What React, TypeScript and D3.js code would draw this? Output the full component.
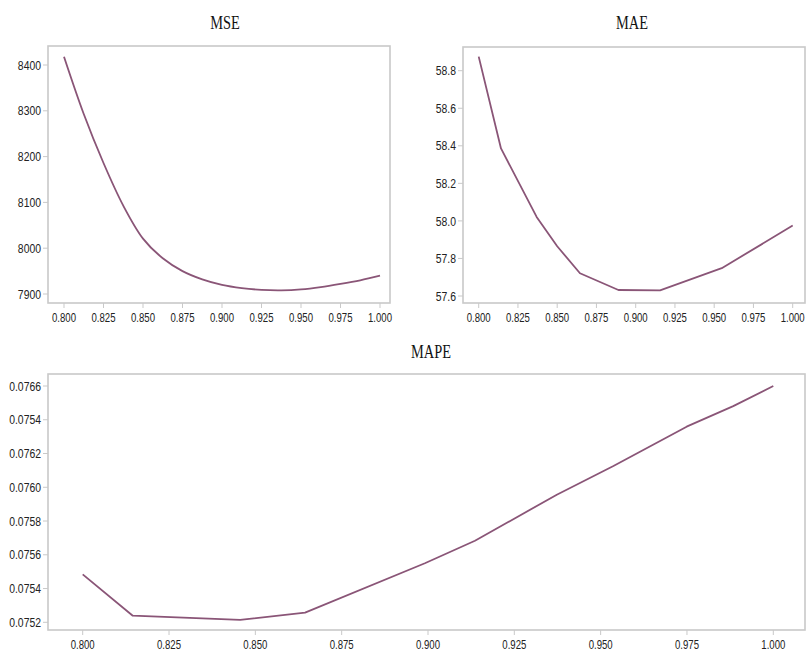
import React from "react";
import * as d3 from "d3";

// ---- Data ----
const mseX = [0.8, 0.8125, 0.825, 0.8375, 0.85, 0.8625, 0.875, 0.8875, 0.9, 0.9125, 0.925, 0.9375, 0.95, 0.9625, 0.975, 0.9875, 1.0];
const mseY = [8418, 8293, 8186, 8093, 8021, 7978, 7950, 7932, 7920, 7913, 7909, 7908, 7910, 7915, 7922, 7930, 7940];

const maeX = [0.8, 0.8142, 0.8369, 0.85, 0.8645, 0.889, 0.9155, 0.9548, 1.0];
const maeY = [58.875, 58.386, 58.021, 57.865, 57.721, 57.632, 57.63, 57.748, 57.975];

const mapeX = [0.8, 0.8145, 0.8456, 0.8644, 0.8991, 0.9136, 0.9373, 0.9537, 0.9749, 0.9884, 1.0];
const mapeY = [0.075484, 0.075239, 0.075214, 0.075257, 0.07555, 0.075683, 0.075956, 0.076126, 0.076359, 0.076481, 0.0766];

const xTicks = [0.8, 0.825, 0.85, 0.875, 0.9, 0.925, 0.95, 0.975, 1.0];
const mseTicks = [7900, 8000, 8100, 8200, 8300, 8400];
const maeTicks = [57.6, 57.8, 58.0, 58.2, 58.4, 58.6, 58.8];
const mapeTicks = [0.0752, 0.0754, 0.0756, 0.0758, 0.076, 0.0762, 0.0764, 0.0766];
const mapeTickLabels = ["0.0752", "0.0754", "0.0756", "0.0758", "0.0760", "0.0762", "0.0754", "0.0766"];

const LINE = "#8a5577";
const FRAME = "#c9c9c9";
const SANS = "'Liberation Sans', Arial, sans-serif";
const SERIF = "'Liberation Serif', serif";
const NARROW = 0.8;

type PanelProps = {
  title: string;
  titleX: number;
  titleY: number;
  frame: [number, number, number, number];
  xRange: [number, number];
  yDomain: [number, number];
  yRange: [number, number];
  xs: number[];
  ys: number[];
  yTicks: number[];
  yFmt: (v: number, i: number) => string;
  yFont: number;
  xFont: number;
  xLabelY: number;
  curve: d3.CurveFactory;
};

function NText(props: { x: number; y: number; anchor: string; family: string; size: number; dy?: string; children: React.ReactNode; fill?: string }) {
  return (
    <text
      transform={`translate(${props.x},${props.y}) scale(${NARROW},1)`}
      dy={props.dy}
      textAnchor={props.anchor}
      fontFamily={props.family}
      fontSize={props.size}
      fill={props.fill || "#222"}
    >
      {props.children}
    </text>
  );
}

function Panel(p: PanelProps) {
  const x = d3.scaleLinear().domain([0.8, 1.0]).range(p.xRange);
  const y = d3.scaleLinear().domain(p.yDomain).range(p.yRange);
  const [x0, y0, x1, y1] = p.frame;
  const pts = p.xs.map((v, i) => [v, p.ys[i]] as [number, number]);
  const line = d3
    .line<[number, number]>()
    .x((d) => x(d[0]))
    .y((d) => y(d[1]))
    .curve(p.curve);
  return (
    <g>
      <NText x={p.titleX} y={p.titleY} anchor="middle" family={SERIF} size={18} fill="#111">
        {p.title}
      </NText>
      <rect x={x0} y={y0} width={x1 - x0} height={y1 - y0} fill="none" stroke={FRAME} strokeWidth={1.6} />
      {p.yTicks.map((t, i) => (
        <g key={"y" + i}>
          <line x1={x0 - 5} x2={x0} y1={y(t)} y2={y(t)} stroke={FRAME} strokeWidth={1} />
          <NText x={x0 - 7} y={y(t)} dy="0.36em" anchor="end" family={SANS} size={p.yFont}>
            {p.yFmt(t, i)}
          </NText>
        </g>
      ))}
      {xTicks.map((t, i) => (
        <g key={"x" + i}>
          <line x1={x(t)} x2={x(t)} y1={y1} y2={y1 + 5} stroke={FRAME} strokeWidth={1} />
          <NText x={x(t)} y={p.xLabelY} anchor="middle" family={SANS} size={p.xFont}>
            {d3.format(".3f")(t)}
          </NText>
        </g>
      ))}
      <path d={line(pts) || ""} fill="none" stroke={LINE} strokeWidth={1.8} strokeLinejoin="round" />
    </g>
  );
}

export default function App() {
  return (
    <svg width={806} height={652} style={{ position: "absolute", left: 0, top: 0, background: "#fff" }}>
      <Panel
        title="MSE"
        titleX={225}
        titleY={29}
        frame={[48, 46, 390, 303]}
        xRange={[64, 380]}
        yDomain={[7900, 8400]}
        yRange={[294, 65]}
        xs={mseX}
        ys={mseY}
        yTicks={mseTicks}
        yFmt={(v) => String(v)}
        yFont={13}
        xFont={12}
        xLabelY={322}
        curve={d3.curveCatmullRom}
      />
      <Panel
        title="MAE"
        titleX={632}
        titleY={29}
        frame={[463, 47, 805, 303]}
        xRange={[478.7, 792.7]}
        yDomain={[57.6, 58.8]}
        yRange={[296, 70.7]}
        xs={maeX}
        ys={maeY}
        yTicks={maeTicks}
        yFmt={(v) => d3.format(".1f")(v)}
        yFont={13}
        xFont={12}
        xLabelY={322}
        curve={d3.curveLinear}
      />
      <Panel
        title="MAPE"
        titleX={431}
        titleY={358}
        frame={[48, 374, 805, 630]}
        xRange={[82.7, 773.3]}
        yDomain={[0.0752, 0.0766]}
        yRange={[622.3, 386]}
        xs={mapeX}
        ys={mapeY}
        yTicks={mapeTicks}
        yFmt={(v, i) => mapeTickLabels[i]}
        yFont={13}
        xFont={12}
        xLabelY={649}
        curve={d3.curveLinear}
      />
    </svg>
  );
}
